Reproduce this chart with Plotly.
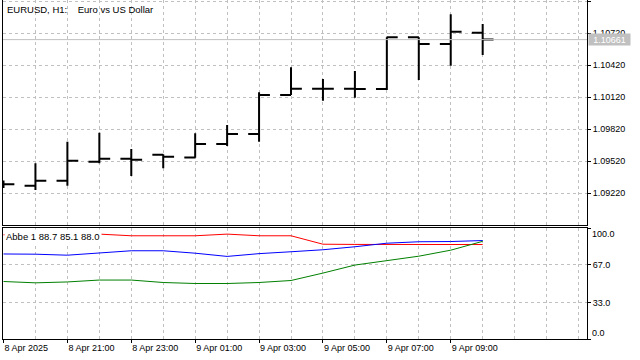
import plotly.graph_objects as go
from datetime import datetime, timedelta

# ---- data ----
times = ["2025-04-08 19:00", "2025-04-08 20:00", "2025-04-08 21:00", "2025-04-08 22:00",
         "2025-04-08 23:00", "2025-04-09 00:00", "2025-04-09 01:00", "2025-04-09 02:00",
         "2025-04-09 03:00", "2025-04-09 04:00", "2025-04-09 05:00", "2025-04-09 06:00",
         "2025-04-09 07:00", "2025-04-09 08:00", "2025-04-09 09:00", "2025-04-09 10:00"]
open_ = [1.09300, 1.09292, 1.09338, 1.09517, 1.09544, 1.09582, 1.09556, 1.09683,
         1.09776, 1.10142, 1.10201, 1.10201, 1.10198, 1.10683, 1.10620, 1.10726]
high = [1.09340, 1.09502, 1.09704, 1.09788, 1.09636, 1.09586, 1.09783, 1.09861,
        1.10167, 1.10402, 1.10292, 1.10367, 1.10683, 1.10683, 1.10898, 1.10807]
low = [1.09270, 1.09251, 1.09292, 1.09502, 1.09382, 1.09455, 1.09554, 1.09664,
       1.09704, 1.10142, 1.10088, 1.10117, 1.10189, 1.10283, 1.10417, 1.10517]
close = [1.09305, 1.09338, 1.09526, 1.09545, 1.09535, 1.09563, 1.09683, 1.09776,
         1.10142, 1.10201, 1.10201, 1.10198, 1.10683, 1.10620, 1.10735, 1.10661]

abbe_blue = [76.6, 76.4, 75.5, 77.8, 79.5, 79.5, 77.3, 74.4, 76.9, 78.6, 80.4, 83.1, 86.3, 87.6, 87.8, 88.7]
abbe_red = [93.9, 94.3, 94.3, 94.5, 93.0, 93.0, 93.0, 94.5, 93.0, 93.0, 85.4, 85.2, 85.2, 85.1, 85.1, 85.1]
abbe_green = [51.8, 50.6, 51.4, 53.1, 53.1, 50.9, 50.0, 50.0, 50.9, 52.7, 59.4, 66.6, 70.6, 74.6, 80.0, 88.0]

time_tick_labels = ["8 Apr 2025", "8 Apr 21:00", "8 Apr 23:00", "9 Apr 01:00",
                    "9 Apr 03:00", "9 Apr 05:00", "9 Apr 07:00", "9 Apr 09:00"]
ind_tick_vals = [0, 33, 67, 100]
ind_tick_labels = ["0.0", "33.0", "67.0", "100.0"]

title_text = "EURUSD, H1:\u00a0\u00a0\u00a0 Euro vs US Dollar"
ind_name = "Abbe 1"

# ---- layout geometry ----
W, H = 640, 360
FONT = "Tahoma, Liberation Sans, Arial, sans-serif"
GRID = "#c0c0c0"

t0 = datetime.strptime(times[0], "%Y-%m-%d %H:%M")
x_left_px, x_right_px, bar_px, bar0_px = 3, 587, 32, 2.5
x_range = [t0 - timedelta(hours=(x_left_px - bar0_px) / bar_px),
           t0 + timedelta(hours=(x_right_px - bar0_px) / bar_px)]

xdom = [x_left_px / W, x_right_px / W]
ydom_main = [1 - 225 / H, 1.0]
ydom_ind = [1 - 339 / H, 1 - 228 / H]

price_tick0, price_dtick = 1.09220, 0.003
px_per_price = 32 / price_dtick
y_top = 1.10720 + 33.33 / px_per_price
y_bot = 1.10720 - (225 - 33.33) / px_per_price

fig = go.Figure()
fig.add_trace(go.Ohlc(
    x=times, open=open_, high=high, low=low, close=close,
    increasing=dict(line=dict(color="black", width=2)),
    decreasing=dict(line=dict(color="black", width=2)),
    tickwidth=0.34, xaxis="x", yaxis="y", showlegend=False, hoverinfo="skip"))

for vals, col in [(abbe_red, "#ff0000"), (abbe_blue, "#0000ff"), (abbe_green, "#008000")]:
    fig.add_trace(go.Scatter(x=times, y=vals, mode="lines",
                             line=dict(color=col, width=1),
                             xaxis="x2", yaxis="y2", showlegend=False, hoverinfo="skip"))

grid_kw = dict(showgrid=True, gridcolor=GRID, griddash="3px,3px", gridwidth=1)
minor_kw = dict(dtick=3600000, tick0=times[0], showgrid=True, gridcolor=GRID,
                griddash="3px,3px", gridwidth=1, ticks="")

fig.update_layout(
    width=W, height=H, margin=dict(l=0, r=0, t=0, b=0),
    paper_bgcolor="white", plot_bgcolor="white",
    font=dict(family=FONT, size=9, color="black"),
    showlegend=False,
    xaxis=dict(type="date", domain=xdom, range=x_range, anchor="y",
               tickvals=times[0::2], ticktext=[""] * len(time_tick_labels),
               showticklabels=False, ticks="", minor=minor_kw,
               showline=True, linecolor="black", linewidth=1, mirror=False,
               zeroline=False, rangeslider=dict(visible=False), **grid_kw),
    yaxis=dict(domain=ydom_main, range=[y_bot, y_top], anchor="x", side="right",
               tick0=price_tick0, dtick=price_dtick, tickformat=".5f",
               ticks="outside", ticklen=3, tickcolor="black",
               showline=True, linecolor="black", linewidth=1, mirror=True,
               zeroline=False, tickfont=dict(size=9), **grid_kw),
    xaxis2=dict(type="date", domain=xdom, range=x_range, anchor="y2", matches="x",
                tickvals=times[0::2], ticktext=time_tick_labels,
                ticks="outside", ticklen=3, tickcolor="black",
                ticklabelposition="outside right", minor=minor_kw,
                showline=True, linecolor="black", linewidth=1, mirror=True,
                zeroline=False, tickfont=dict(size=9), **grid_kw),
    yaxis2=dict(domain=ydom_ind, range=[0, 100], anchor="x2", side="right",
                tickvals=ind_tick_vals,
                ticktext=["", ind_tick_labels[1], ind_tick_labels[2], ""],
                ticks="outside", ticklen=3, tickcolor="black",
                showline=True, linecolor="black", linewidth=1, mirror=True,
                zeroline=False, tickfont=dict(size=9), **grid_kw),
)

# current price line and label
fig.add_shape(type="line", xref="x domain", x0=0, x1=1, yref="y",
              y0=close[-1], y1=close[-1], line=dict(color=GRID, width=1))
annotations = [
    dict(xref="paper", yref="y", x=588 / W, y=close[-1], xanchor="left", yanchor="middle",
         text=f"{close[-1]:.5f}", showarrow=False, bgcolor=GRID, width=41, height=11,
         borderpad=0, font=dict(color="white", size=9, family=FONT)),
    dict(xref="paper", yref="y2", x=591 / W, y=ind_tick_vals[-1], xanchor="left", yanchor="top",
         text=ind_tick_labels[-1], showarrow=False, borderpad=0, font=dict(size=9)),
    dict(xref="paper", yref="y2", x=591 / W, y=ind_tick_vals[0], xanchor="left", yanchor="bottom",
         text=ind_tick_labels[0], showarrow=False, borderpad=0, font=dict(size=9)),
    dict(xref="paper", yref="paper", x=6 / W, y=1 - 9.5 / H, xanchor="left", yanchor="middle",
         text=title_text, showarrow=False, borderpad=0, font=dict(size=9.5)),
    dict(xref="paper", yref="paper", x=4 / W, y=1 - 236 / H, xanchor="left", yanchor="middle",
         text=f"{ind_name} {abbe_blue[-1]:.1f} {abbe_red[-1]:.1f} {abbe_green[-1]:.1f}",
         showarrow=False, bgcolor="white", borderpad=1, font=dict(size=9.5)),
]
fig.update_layout(annotations=annotations)

fig.write_html("out.html", config={"displayModeBar": False},
               post_script="document.body.style.margin='0';document.body.style.overflow='hidden';")
